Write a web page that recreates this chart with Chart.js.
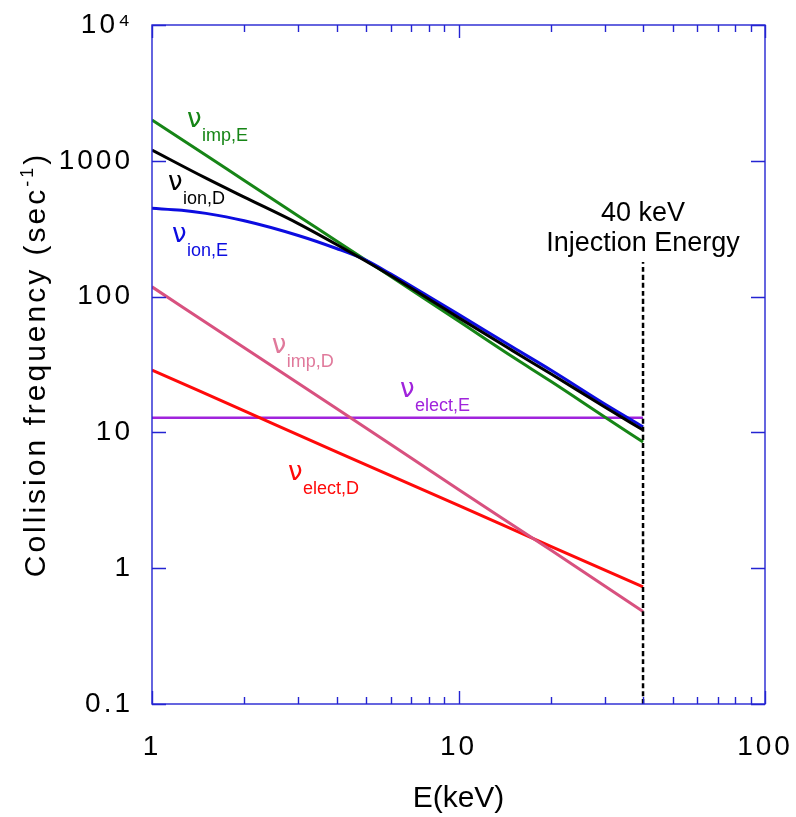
<!DOCTYPE html>
<html>
<head>
<meta charset="utf-8">
<script src="https://cdn.jsdelivr.net/npm/chart.js@4"></script>
<style>
  html, body { margin: 0; padding: 0; background: #fff; }
  canvas { display: block; }
</style>
</head>
<body>
<canvas id="freqChart" width="796" height="817"></canvas>
<script>
// Energy grid (keV) and collision frequencies (1/s)
const energy = [1, 1.5, 2, 3, 4, 6, 8, 10, 15, 20, 30, 40];
const nuImpE = [2000, 1100, 716, 393, 257, 141, 92, 66, 36, 23.8, 13.0, 8.5];
const nuIonD = [1200, 745, 540, 345, 242, 143, 96, 70, 40, 27, 15.4, 10.4];

const energyIonE = [1, 1.25, 1.5, 2, 3, 4, 5, 6, 8, 10, 15, 20, 30, 40];
const nuIonE = [447, 432, 410, 362, 282, 226, 185, 147, 100, 74, 42.5, 28.8, 16.2, 11.0];

const energyLine = [1, 2, 4, 10, 20, 40];
const nuImpD = [118, 42, 15, 3.8, 1.36, 0.48];
const nuElectD = [28.8, 14.4, 7.2, 2.9, 1.45, 0.73];

const energyFlat = [1, 40];
const nuElectE = [12.8, 12.8];

// 40 keV injection marker
const injectionE = [40, 40];
const injectionNu = [0.1, 180];

const xTickValues = [1, 10, 100];
const xTickLabels = ['1', '10', '100'];
const xMinorTicks = [2, 3, 4, 5, 6, 7, 8, 9, 20, 30, 40, 50, 60, 70, 80, 90];
const yTickValues = [0.1, 1, 10, 100, 1000, 10000];
const yTickLabels = ['0.1', '1', '10', '100', '1000', '10⁴'];

// curve names and where their labels sit (E, nu)
const curveNames = ['imp,E', 'ion,D', 'ion,E', 'imp,D', 'elect,E', 'elect,D'];
const curveLabelE = [1.30, 1.128, 1.162, 2.46, 6.44, 2.78];
const curveLabelNu = [1774, 610, 252, 38.5, 18.2, 4.46];

const GREEN = '#168516';
const BLUE = '#0c0ce0';
const PINK = '#d8517f';
const RED = '#ff0a0a';
const PURPLE = '#a024dc';
const AXIS = '#2424d2';
const FONT = "'Liberation Sans', Arial, sans-serif";
const labelColors = [GREEN, '#000000', BLUE, '#e0799b', PURPLE, RED];

function pts(xs, ys) {
  return xs.map((v, i) => ({ x: v, y: ys[i] }));
}

const overlay = {
  id: 'overlay',
  beforeDraw(chart) {
    chart.ctx.letterSpacing = '3px';
  },
  beforeDatasetsDraw(chart) {
    chart.ctx.letterSpacing = '0px';
  },
  afterDraw(chart) {
    const { ctx, chartArea: a, scales: { x, y } } = chart;
    ctx.save();
    ctx.letterSpacing = '0px';

    // frame and inward ticks on all four sides
    ctx.strokeStyle = AXIS;
    ctx.lineWidth = 1.4;
    ctx.strokeRect(a.left, a.top, a.right - a.left, a.bottom - a.top);
    ctx.beginPath();
    const xt = (v, len) => {
      const px = Math.round(x.getPixelForValue(v)) + 0.5;
      ctx.moveTo(px, a.bottom); ctx.lineTo(px, a.bottom - len);
      ctx.moveTo(px, a.top); ctx.lineTo(px, a.top + len);
    };
    xTickValues.forEach(v => xt(v, 13));
    xMinorTicks.forEach(v => xt(v, 7));
    yTickValues.forEach(v => {
      const py = Math.round(y.getPixelForValue(v)) + 0.5;
      ctx.moveTo(a.left, py); ctx.lineTo(a.left + 14, py);
      ctx.moveTo(a.right, py); ctx.lineTo(a.right - 14, py);
    });
    ctx.stroke();

    // axis titles
    ctx.fillStyle = '#000';
    ctx.font = '30px ' + FONT;
    ctx.textAlign = 'center';
    ctx.textBaseline = 'alphabetic';
    ctx.fillText('E(keV)', (a.left + a.right) / 2, 807);

    ctx.save();
    ctx.translate(45, (a.top + a.bottom) / 2);
    ctx.rotate(-Math.PI / 2);
    ctx.textAlign = 'left';
    ctx.letterSpacing = '3px';
    const main = 'Collision frequency (sec';
    ctx.font = '30px ' + FONT;
    const w1 = ctx.measureText(main).width;
    const w3 = ctx.measureText(')').width;
    ctx.font = '18px ' + FONT;
    const w2 = ctx.measureText('-1').width;
    const sx = -(w1 + w2 + w3) / 2;
    ctx.font = '30px ' + FONT;
    ctx.fillText(main, sx, 0);
    ctx.font = '18px ' + FONT;
    ctx.fillText('-1', sx + w1, -12);
    ctx.font = '30px ' + FONT;
    ctx.fillText(')', sx + w1 + w2, 0);
    ctx.restore();

    // curve labels: nu with subscript
    curveNames.forEach((name, i) => {
      const px = x.getPixelForValue(curveLabelE[i]);
      const py = y.getPixelForValue(curveLabelNu[i]);
      ctx.fillStyle = labelColors[i];
      ctx.textAlign = 'left';
      ctx.font = "26px 'DejaVu Sans', sans-serif";
      ctx.fillText('ν', px, py);
      ctx.font = '18px ' + FONT;
      ctx.fillText(name, px + 15, py + 14);
    });

    // injection energy note
    const ix = x.getPixelForValue(40);
    ctx.fillStyle = '#000';
    ctx.textAlign = 'center';
    ctx.font = '27px ' + FONT;
    ctx.fillText('40 keV', ix, 221);
    ctx.fillText('Injection Energy', ix, 251);

    ctx.restore();
  }
};

const line = (data, color, width) => ({
  data: data,
  borderColor: color,
  borderWidth: width,
  pointRadius: 0,
  fill: false,
  cubicInterpolationMode: 'monotone',
});

const config = {
  type: 'line',
  data: {
    datasets: [
      Object.assign(line(pts(injectionE, injectionNu), '#000', 2.5), { borderDash: [5, 3] }),
      line(pts(energy, nuIonD), '#000', 3),
      line(pts(energyIonE, nuIonE), BLUE, 3),
      line(pts(energy, nuImpE), GREEN, 3),
      line(pts(energyLine, nuImpD), PINK, 3),
      line(pts(energyLine, nuElectD), RED, 3),
      line(pts(energyFlat, nuElectE), PURPLE, 2.5),
    ],
  },
  options: {
    responsive: false,
    animation: false,
    devicePixelRatio: 1,
    layout: { padding: { top: 25, right: 31, left: 0, bottom: 0 } },
    plugins: { legend: { display: false }, tooltip: { enabled: false } },
    scales: {
      x: {
        type: 'logarithmic',
        min: 1,
        max: 100,
        grid: { display: false, drawTicks: false },
        border: { display: false },
        afterBuildTicks: s => { s.ticks = xTickValues.map(v => ({ value: v })); },
        afterFit: s => {
          s.height = 113;
          s.paddingLeft = 0;
          s.paddingRight = 0;
        },
        ticks: {
          autoSkip: false,
          maxRotation: 0,
          padding: 26,
          color: '#000',
          font: { family: FONT, size: 28 },
          callback: (v, i) => xTickLabels[i],
        },
      },
      y: {
        type: 'logarithmic',
        min: 0.1,
        max: 10000,
        grid: { display: false, drawTicks: false },
        border: { display: false },
        afterBuildTicks: s => { s.ticks = yTickValues.map(v => ({ value: v })); },
        afterFit: s => {
          s.width = 152;
          s.paddingTop = 0;
          s.paddingBottom = 0;
        },
        ticks: {
          autoSkip: false,
          padding: 19,
          color: '#000',
          font: { family: FONT, size: 28 },
          callback: (v, i) => yTickLabels[i],
        },
      },
    },
  },
  plugins: [overlay],
};

const freqChart = new Chart(document.getElementById('freqChart'), config);
</script>
</body>
</html>
